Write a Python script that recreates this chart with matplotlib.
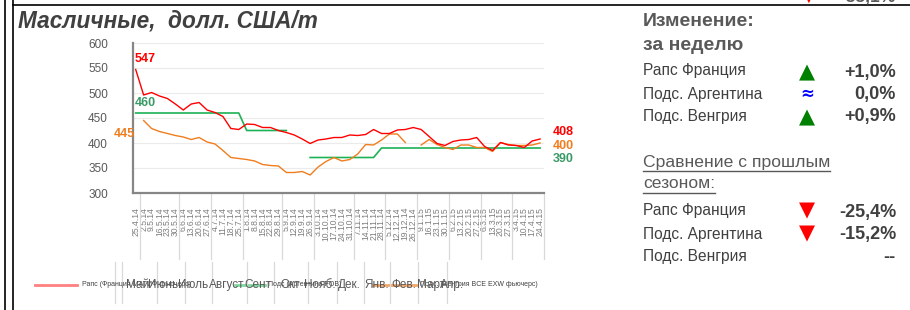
import numpy as np
import matplotlib
matplotlib.use("Agg")
import matplotlib.pyplot as plt
from matplotlib.lines import Line2D

plt.rcParams['font.family'] = ['Liberation Sans', 'DejaVu Sans']

# ---- dati (USD/t, settimanali) ----
date_labels = ["25.4.14", "2.5.14", "9.5.14", "16.5.14", "23.5.14", "30.5.14",
               "6.6.14", "13.6.14", "20.6.14", "27.6.14", "4.7.14", "11.7.14",
               "18.7.14", "25.7.14", "1.8.14", "8.8.14", "15.8.14", "22.8.14",
               "29.8.14", "5.9.14", "12.9.14", "19.9.14", "26.9.14", "3.10.14",
               "10.10.14", "17.10.14", "24.10.14", "31.10.14", "7.11.14", "14.11.14",
               "21.11.14", "28.11.14", "5.12.14", "12.12.14", "19.12.14", "26.12.14",
               "9.1.15", "16.1.15", "23.1.15", "30.1.15", "6.2.15", "13.2.15",
               "20.2.15", "27.2.15", "6.3.15", "13.3.15", "20.3.15", "27.3.15",
               "3.4.15", "10.4.15", "17.4.15", "24.4.15"]

rapeseed_fr = [547, 496, 501, 494, 489, 478, 466, 478, 481, 466, 461, 453, 429,
               427, 438, 437, 431, 431, 425, 421, 416, 408, 399, 406, 408, 411,
               411, 416, 415, 417, 427, 419, 419, 426, 427, 431, 427, 413, 399,
               395, 403, 406, 407, 411, 393, 385, 401, 396, 395, 391, 404, 408]

sunflower_ar = [460] * 14 + [425] * 6 + [np.nan] * 2 + [371] * 9 + [390] * 21

sunflower_hu = [np.nan, 445, 429, 423, 419, 415, 412, 407, 411, 402, 398, 385, 371,
                369, 367, 364, 357, 355, 354, 341, 341, 343, 336, 352, 363, 371,
                364, 367, 378, 397, 396, 406, 418, 418, 401, np.nan, 396, 407, 397,
                391, 387, 396, 396, 391, 391, 383, 401, 397, 395, 395, 396, 400]

# confini tra i mesi (indice dell'ultima settimana di ogni mese)
month_ends = [0, 5, 9, 13, 18, 22, 27, 31, 35, 39, 43, 47, 51]
month_names = ["Май", "Июнь", "Июль", "Август", "Сент", "Окт", "Нояб.", "Дек.",
               "Янв.", "Фев.", "Март", "Апр."]

week_rows = [("Рапс Франция", "up", "+1,0%"),
             ("Подс. Аргентина", "eq", "0,0%"),
             ("Подс. Венгрия", "up", "+0,9%")]
season_rows = [("Рапс Франция", "down", "-25,4%"),
               ("Подс. Аргентина", "down", "-15,2%"),
               ("Подс. Венгрия", None, "--")]

RED = '#ff0000'
ORANGE = '#f07d1e'
GREEN = '#1db256'
GREEN_LBL = '#3a9a66'
GREY = '#595959'

W, H = 910, 310
fig = plt.figure(figsize=(W / 100, H / 100), dpi=100)


def fx(px):
    return px / W


def fy(py):
    return 1 - py / H


def hline(x0, x1, y, **kw):
    fig.add_artist(Line2D([fx(x0), fx(x1)], [fy(y), fy(y)], **kw))


def vline(x, y0, y1, **kw):
    fig.add_artist(Line2D([fx(x), fx(x)], [fy(y0), fy(y1)], **kw))


# cornice
vline(4.5, 0, H, color='black', lw=1.2)
vline(12.5, 0, H, color='black', lw=1.2)
hline(12.5, W, 5, color='black', lw=1.2)

# titolo
fig.text(fx(18), fy(21), "Масличные,  долл. США/m", fontsize=16.3, fontweight='bold',
         fontstyle='italic', color='#404040', va='center', ha='left')

# ---- grafico ----
ax = fig.add_axes([fx(133), fy(193), (544 - 133) / W, 150 / H])
x = np.arange(len(date_labels))
ax.plot(x, sunflower_ar, color=GREEN, lw=1.2, zorder=2)
ax.plot(x, sunflower_hu, color=ORANGE, lw=1.0, zorder=3)
ax.plot(x, rapeseed_fr, color=RED, lw=1.0, zorder=4)

ax.set_xlim(-0.34, 51.49)
ax.set_ylim(300, 600)
ax.set_yticks(np.arange(300, 601, 50))
ax.yaxis.grid(True, color='#ebebeb', lw=0.8)
ax.set_axisbelow(True)
for s in ['top', 'right']:
    ax.spines[s].set_visible(False)
for s in ['left', 'bottom']:
    ax.spines[s].set_color('#868686')
    ax.spines[s].set_linewidth(1.6)
ax.tick_params(axis='y', length=0, pad=18, labelsize=8.5, labelcolor=GREY)
ax.set_xticks(x)
ax.set_xticklabels(date_labels, rotation=90, fontsize=6.2, color='#7f7f7f', va='top')
ax.tick_params(axis='x', length=0, pad=10)

# linee verticali tra i mesi sotto l'asse
for m in month_ends:
    ax.plot([m + 0.5, m + 0.5], [0, -0.44], transform=ax.get_xaxis_transform(),
            color='#d9d9d9', lw=0.9, clip_on=False)

# etichette valori iniziali / finali
lbl = dict(textcoords='offset points', fontsize=9, fontweight='bold', annotation_clip=False)
ax.annotate(str(rapeseed_fr[0]), (0, rapeseed_fr[0]), xytext=(-0.5, 3), ha='left', va='bottom', color=RED, **lbl)
ax.annotate(str(sunflower_ar[0]), (0, sunflower_ar[0]), xytext=(-0.5, 3), ha='left', va='bottom', color=GREEN_LBL, **lbl)
ax.annotate(str(sunflower_hu[1]), (1, sunflower_hu[1]), xytext=(-6.5, -10), ha='right', va='center', color=ORANGE, **lbl)
ax.annotate(str(rapeseed_fr[-1]), (51, rapeseed_fr[-1]), xytext=(9, 5), ha='left', va='center', color=RED, **lbl)
ax.annotate(str(sunflower_hu[-1]), (51, sunflower_hu[-1]), xytext=(9, -2), ha='left', va='center', color=ORANGE, **lbl)
ax.annotate(str(sunflower_ar[-1]), (51, sunflower_ar[-1]), xytext=(9, -8), ha='left', va='center', color=GREEN_LBL, **lbl)

# legenda (sovrapposta ai mesi, come nell'originale)
leg_y = 285
hline(35, 77, leg_y, color='#ff8080', lw=2)
fig.text(fx(82), fy(leg_y), "Рапс (Франция МАТИФ фьючерс)", fontsize=5, color='#404040', va='center')
hline(235, 265, leg_y, color='#80d8a0', lw=2)
fig.text(fx(268), fy(leg_y), "Подс (Аргентина FOB)", fontsize=5, color='#404040', va='center')
hline(373, 417, leg_y, color='#f2a86a', lw=2)
fig.text(fx(420), fy(leg_y), "Подс. (Венгрия BCE EXW фьючерс)", fontsize=5, color='#404040', va='center')

for sx in [115, 122, 157, 185, 212, 247, 274, 308, 337, 364, 390, 418, 447]:
    vline(sx, 262, 303, color='#d9d9d9', lw=0.9)
month_x = [138, 163, 193, 227, 258, 290, 320, 349, 377, 404, 431, 452]
for mx, name in zip(month_x, month_names):
    fig.text(fx(mx), fy(leg_y), name, fontsize=8.5, color=GREY, ha='center', va='center')

# ---- pannello destro ----
# riga tagliata in alto
fig.text(fx(808), fy(-1), "▼", fontsize=10, color=RED, ha='center', va='center')
fig.text(fx(896), fy(-3), "-35,1%", fontsize=12.5, fontweight='bold', color=GREY, ha='right', va='center')

fig.text(fx(643), fy(21), "Изменение:", fontsize=14, fontweight='bold', color=GREY, va='center')
fig.text(fx(643), fy(45), "за неделю", fontsize=14, fontweight='bold', color=GREY, va='center')


def draw_row(y, name, sign, value):
    fig.text(fx(643), fy(y), name, fontsize=11.2, color='#404040', va='center')
    if sign == 'up':
        fig.text(fx(807), fy(y + 1), "▲", fontsize=15, color='#008000', ha='center', va='center',
                 family=['DejaVu Sans'])
    elif sign == 'down':
        fig.text(fx(807), fy(y - 1), "▼", fontsize=15, color=RED, ha='center', va='center',
                 family=['DejaVu Sans'])
    elif sign == 'eq':
        fig.text(fx(807), fy(y), "≈", fontsize=12, fontweight='bold', color='#0000ff',
                 ha='center', va='center', family=['DejaVu Sans'])
    fig.text(fx(896), fy(y + 1), value, fontsize=13, fontweight='bold', color='#404040',
             ha='right', va='center')


for (name, sign, value), y in zip(week_rows, [71, 94, 116]):
    draw_row(y, name, sign, value)

t1 = fig.text(fx(643), fy(162), "Сравнение с прошлым", fontsize=12.6, color=GREY, va='center')
t2 = fig.text(fx(643), fy(184), "сезоном:", fontsize=12.6, color=GREY, va='center')

for (name, sign, value), y in zip(season_rows, [211, 234, 256]):
    draw_row(y, name, sign, value)

# sottolineatura
fig.canvas.draw()
for t, uy in [(t1, 171), (t2, 192.5)]:
    bb = t.get_window_extent()
    hline(bb.x0, bb.x1, uy, color=GREY, lw=1)

fig.savefig("out.png", dpi=100)
